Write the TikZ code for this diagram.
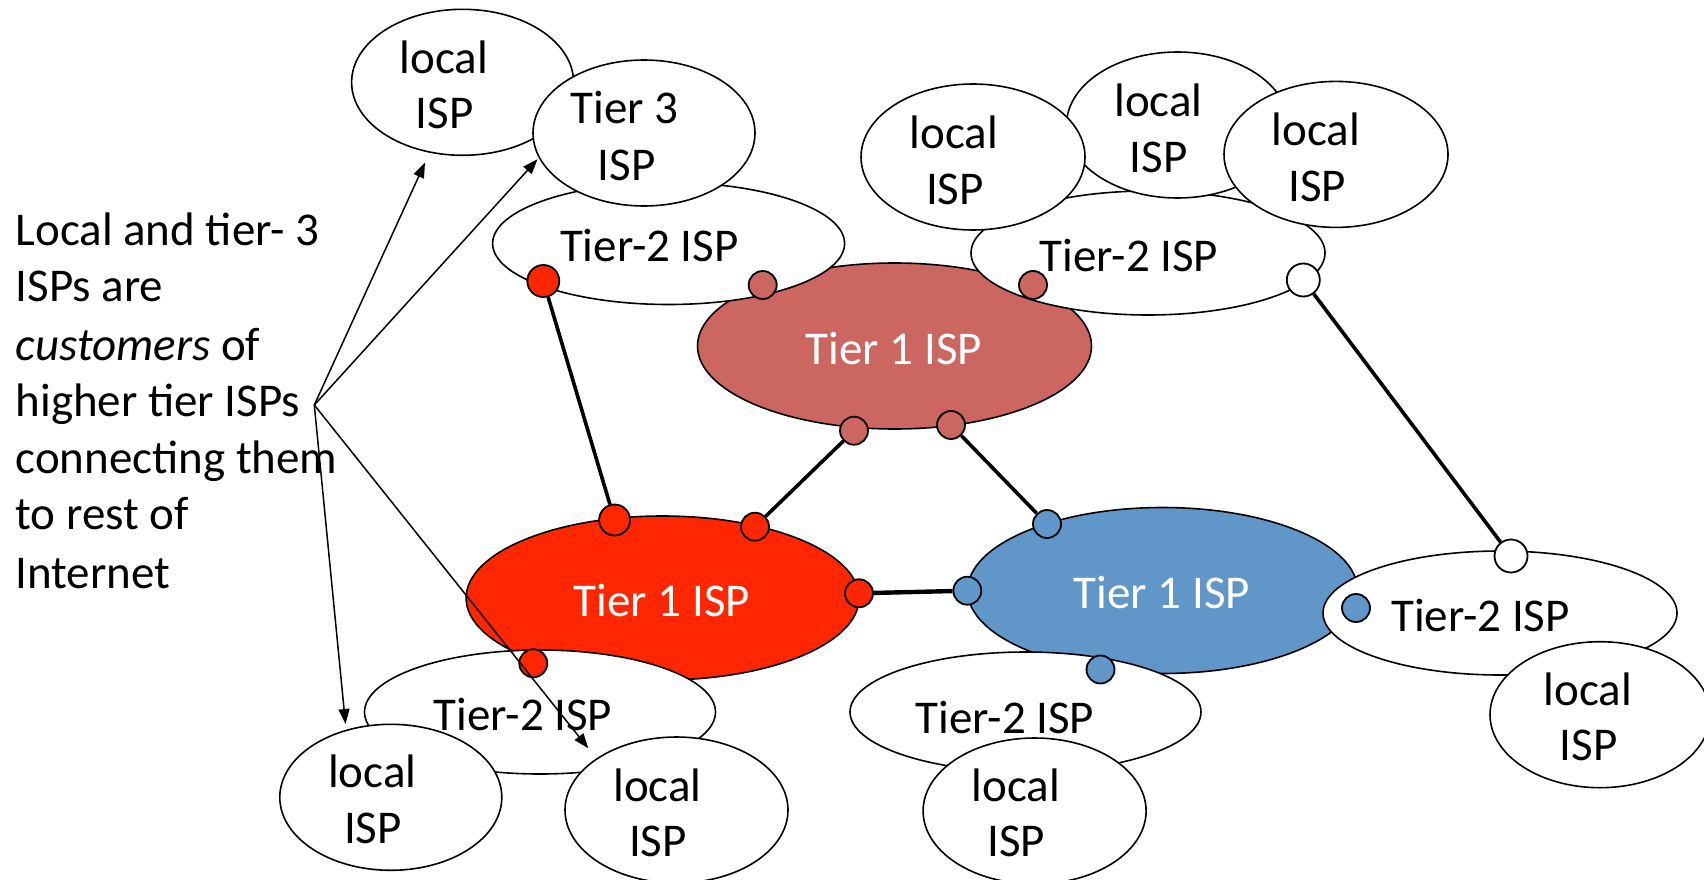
\documentclass[tikz,border=0pt]{standalone}
\usepackage{fontspec}
\setmainfont{Carlito}
\usetikzlibrary{shapes.geometric,arrows.meta}
\definecolor{pinkc}{RGB}{204,102,96}
\definecolor{redc}{RGB}{255,38,0}
\definecolor{bluec}{RGB}{97,150,200}
\begin{document}
\begin{tikzpicture}[x=1pt,y=-1pt,
  ell/.style 2 args={ellipse,draw=black,line width=1.6pt,fill=white,inner sep=0pt,minimum width=#1,minimum height=#2},
  txt/.style={font=\fontsize{47}{57}\selectfont,inner sep=0pt,anchor=base},
  wtxt/.style={txt,text=white},
  ltxt/.style={txt,anchor=base west},
  dot/.style={circle,draw=black,line width=1.8pt,inner sep=0pt,minimum size=28pt},
  bigdot/.style={dot,minimum size=32pt},
  conn/.style={draw=black,line width=3.6pt},
  arr/.style={draw=black,line width=1.5pt,-{Triangle[length=15pt,width=11pt]}}]
\useasboundingbox (0,0) rectangle (1704,880);
% ---- pink Tier 1 cluster
\node[ell={394pt}{166pt}, fill=pinkc] (t1p) at (894.5,346) {};
\node[ell={352pt}{122pt}] (t2tl) at (668.6,243.5) {};
\node[ell={222pt}{146pt}] (l1) at (462.6,82.3) {};
\node[ell={222pt}{146pt}] (t3) at (644,133) {};
\node[ell={354pt}{124pt}] (t2tr) at (1148,253) {};
\node[ell={222pt}{146pt}] (ltm) at (1177.5,125) {};
\node[ell={224pt}{146pt}] (ltl) at (973,157) {};
\node[ell={224pt}{146pt}] (ltr) at (1336,154.4) {};
% ---- red Tier 1 cluster
\node[ell={393pt}{164pt}, fill=redc] (t1r) at (662.6,598) {};
\node[ell={351pt}{124pt}] (t2bl) at (540,712) {};
\node[ell={222pt}{146pt}] (lbl1) at (390.8,797.3) {};
\node[ell={223pt}{146pt}] (lbl2) at (676.5,810) {};
% ---- blue Tier 1 cluster
\node[ell={390pt}{166pt}, fill=bluec] (t1b) at (1162.6,590.5) {};
\node[ell={351pt}{120pt}] (t2bm) at (1025.5,712) {};
\node[ell={223pt}{146pt}] (lbm) at (1034.6,811) {};
\node[ell={354pt}{124pt}] (t2br) at (1500,613) {};
\node[ell={220pt}{146pt}] (lbr) at (1600,714.7) {};
% ---- texts
\node[txt] (l1a) at (444,73.3) {local};
\node[txt] (l1b) at (444.8,128.3) {ISP};
\node[txt] (t3a) at (624.4,124) {Tier 3};
\node[txt] (t3b) at (626.6,180) {ISP};
\node[txt] (t2tlt) at (649.4,261.7) {Tier-2 ISP};
\node[wtxt] (t1pt) at (894,364) {Tier 1 ISP};
\node[txt] (t2trt) at (1129,271.7) {Tier-2 ISP};
\node[txt] (ltla) at (954,148.3) {local};
\node[txt] (ltlb) at (955,204) {ISP};
\node[txt] (ltma) at (1158.5,116.7) {local};
\node[txt] (ltmb) at (1158.8,172.7) {ISP};
\node[txt] (ltra) at (1316,145.7) {local};
\node[txt] (ltrb) at (1317,201.7) {ISP};
\node[wtxt] (t1rt) at (662,616.7) {Tier 1 ISP};
\node[txt] (t2blt) at (523,730) {Tier-2 ISP};
\node[txt] (lbl1a) at (372.4,787.7) {local};
\node[txt] (lbl1b) at (373,843.3) {ISP};
\node[txt] (lbl2a) at (657.6,801) {local};
\node[txt] (lbl2b) at (658,856.7) {ISP};
\node[wtxt] (t1bt) at (1162,608.3) {Tier 1 ISP};
\node[txt] (t2bmt) at (1005,733.3) {Tier-2 ISP};
\node[txt] (lbma) at (1016,801) {local};
\node[txt] (lbmb) at (1016.4,856.7) {ISP};
\node[txt] (t2brt) at (1480.5,631.7) {Tier-2 ISP};
\node[txt] (lbra) at (1588,705) {local};
\node[txt] (lbrb) at (1588.5,760.7) {ISP};
% ---- left caption
\node[ltxt] (c1) at (15.4,245) {Local and tier- 3};
\node[ltxt] (c2) at (15.4,301.7) {ISPs are};
\node[ltxt] (c3) at (15.4,360) {\textit{customers} of};
\node[ltxt] (c4) at (15.4,416.7) {higher tier ISPs};
\node[ltxt] (c5) at (15.4,473.3) {connecting them};
\node[ltxt] (c6) at (15.4,529.3) {to rest of};
\node[ltxt] (c7) at (15.4,588.3) {Internet};
% ---- dots
\node[bigdot, fill=redc] (dR1) at (543.3,281) {};
\node[dot, fill=pinkc] (dP1) at (762.7,285) {};
\node[dot, fill=pinkc] (dP2) at (1033,285) {};
\node[bigdot, fill=white, minimum size=33pt] (dW1) at (1303.3,280) {};
\node[dot, fill=pinkc] (dP3) at (854,430.7) {};
\node[dot, fill=pinkc] (dP4) at (951,425) {};
\node[dot, fill=redc, minimum size=31pt] (dR2) at (614.6,520) {};
\node[dot, fill=redc] (dR3) at (755,526.7) {};
\node[dot, fill=redc] (dR4) at (859,593.3) {};
\node[dot, fill=redc] (dR5) at (533.3,663.3) {};
\node[dot, fill=bluec] (dB1) at (1047,524) {};
\node[dot, fill=bluec] (dB2) at (967.3,590.7) {};
\node[dot, fill=bluec] (dB3) at (1356,608) {};
\node[dot, fill=bluec] (dB4) at (1100.5,669.5) {};
\node[bigdot, fill=white, minimum size=33pt] (dW2) at (1511,556) {};
% ---- connectors
\draw[conn] (dR1) -- (dR2);
\draw[conn] (dP3) -- (dR3);
\draw[conn] (dP4) -- (dB1);
\draw[conn, line width=4.4pt] (dR4) -- (dB2);
\draw[conn] (dW1) -- (dW2);
% ---- arrows
\coordinate (src) at (314.3,405);
\coordinate (a1) at (425,162.7);
\coordinate (a2) at (537.5,159.3);
\coordinate (a3) at (345.5,724);
\coordinate (a4) at (588.3,748.3);
\draw[arr] (src) -- (a1);
\draw[arr] (src) -- (a2);
\draw[arr] (src) -- (a3);
\draw[arr] (src) -- (a4);
\end{tikzpicture}
\end{document}
